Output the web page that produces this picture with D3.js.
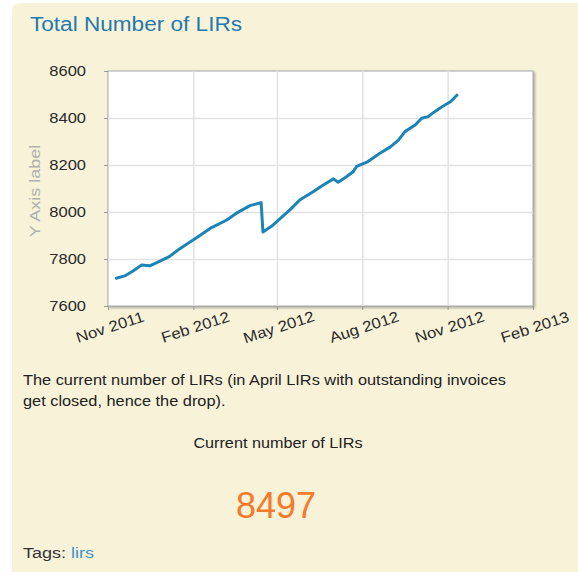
<!DOCTYPE html>
<html>
<head>
<meta charset="utf-8">
<script src="https://cdn.jsdelivr.net/npm/d3@7"></script>
<style>
	body { margin: 0; background: #fff; }
	svg { display: block; font-family: "Liberation Sans", Arial, sans-serif; }
</style>
</head>
<body>
<div id="chart"></div>
<script>
// data
var dates = ["2011-11-10", "2011-11-19", "2011-11-28", "2011-12-07", "2011-12-16", "2011-12-27",
	"2012-01-06", "2012-01-17", "2012-01-28", "2012-02-08", "2012-02-19", "2012-03-08",
	"2012-03-18", "2012-04-02", "2012-04-14", "2012-04-16", "2012-04-27", "2012-05-15",
	"2012-05-26", "2012-06-09", "2012-06-20", "2012-07-01", "2012-07-06", "2012-07-15",
	"2012-07-22", "2012-07-26", "2012-08-06", "2012-08-20", "2012-08-31", "2012-09-09",
	"2012-09-16", "2012-09-27", "2012-10-04", "2012-10-11", "2012-10-18", "2012-10-26",
	"2012-11-04", "2012-11-11"];
var lirs = [7718, 7728, 7749, 7774, 7771, 7791,
	7810, 7843, 7871, 7900, 7930, 7966,
	7994, 8027, 8040, 7915, 7945, 8009,
	8052, 8086, 8115, 8141, 8127, 8150,
	8171, 8194, 8212, 8250, 8276, 8306,
	8342, 8370, 8399, 8406, 8427, 8448,
	8469, 8497];
var yTicks = [7600, 7800, 8000, 8200, 8400, 8600];
var xTicks = ["2011-11-01", "2012-02-01", "2012-05-01", "2012-08-01", "2012-11-01", "2013-02-01"];
var currentValue = 8497;

var parse = d3.timeParse("%Y-%m-%d");

var svg = d3.select("#chart").append("svg")
	.attr("width", 578)
	.attr("height", 572);

// the text in the picture is a bit wider than Liberation Sans, so stretch it around its anchor
function label(x, y, k, size, color, txt, anchor) {
	return svg.append("text")
		.attr("transform", "translate(" + x + "," + y + ") scale(" + k + ",1)")
		.attr("text-anchor", anchor || "start")
		.attr("fill", color)
		.style("font-size", size + "px")
		.text(txt);
}

// panel
svg.append("rect")
	.attr("x", 12).attr("y", 3)
	.attr("width", 600).attr("height", 580)
	.attr("rx", 8)
	.attr("fill", "#f8f2d9");

label(30, 31, 1.075, 21, "#2479ad", "Total Number of LIRs");

var margin = { top: 71, left: 108 },
	width = 425,
	height = 235;

var defs = svg.append("defs");
defs.append("filter").attr("id", "shadow")
	.attr("x", "-5%").attr("y", "-5%").attr("width", "110%").attr("height", "110%")
	.append("feDropShadow")
	.attr("dx", 1.5).attr("dy", 1.5).attr("stdDeviation", 1)
	.attr("flood-color", "#888").attr("flood-opacity", 0.7);

var g = svg.append("g")
	.attr("transform", "translate(" + margin.left + "," + margin.top + ")");

var x = d3.scaleTime()
	.domain([parse(xTicks[0]), parse(xTicks[xTicks.length - 1])])
	.range([0, width]);

var y = d3.scaleLinear()
	.domain([yTicks[0], yTicks[yTicks.length - 1]])
	.range([height, 0]);

// frame
g.append("rect")
	.attr("width", width).attr("height", height)
	.attr("fill", "#fff")
	.attr("stroke", "#a8a8a8")
	.attr("filter", "url(#shadow)");

// gridlines
var grid = g.append("g").attr("class", "grid");
grid.append("g")
	.call(d3.axisLeft(y).tickValues(yTicks.slice(1, -1)).tickSize(-width).tickFormat(""));
grid.append("g")
	.call(d3.axisBottom(x).tickValues(xTicks.slice(1, -1).map(parse)).tickSize(height).tickFormat(""));
grid.selectAll(".domain").remove();
grid.selectAll("line").attr("stroke", "#e2e2e2").attr("stroke-width", 1.5);

// axes
var yAxis = g.append("g")
	.call(d3.axisLeft(y).tickValues(yTicks).tickSize(4).tickFormat(d3.format("d")));
var xAxis = g.append("g")
	.attr("transform", "translate(0," + height + ")")
	.call(d3.axisBottom(x).tickValues(xTicks.map(parse)).tickSize(4).tickFormat(d3.timeFormat("%b %Y")));

[yAxis, xAxis].forEach(function(a) {
	a.select(".domain").remove();
	a.selectAll("line").attr("stroke", "#999");
	a.selectAll("text")
		.attr("fill", "#2a2a2a")
		.style("font-family", "'Liberation Sans', Arial, sans-serif")
		.style("font-size", "15px");
});

yAxis.selectAll("text")
	.attr("x", 0)
	.attr("transform", "translate(-22,0) scale(1.1,1)");

xAxis.selectAll("text")
	.attr("y", 0).attr("dy", 0)
	.attr("text-anchor", "middle")
	.attr("transform", "translate(3,26) rotate(-18) scale(1.12,1)");

// y label
svg.append("text")
	.attr("transform", "translate(40,191) rotate(-90) scale(1.2,1)")
	.attr("text-anchor", "middle")
	.attr("fill", "#b0b0b0")
	.style("font-size", "15px")
	.text("Y Axis label");

// line
var line = d3.line()
	.x(function(d, i) { return x(parse(dates[i])); })
	.y(function(d) { return y(d); });

g.append("path")
	.datum(lirs)
	.attr("fill", "none")
	.attr("stroke", "#1a84b6")
	.attr("stroke-width", 3)
	.attr("stroke-linejoin", "round")
	.attr("stroke-linecap", "round")
	.attr("d", line);

// text below
label(23, 385, 1.09, 15, "#222", "The current number of LIRs (in April LIRs with outstanding invoices");
label(23, 406, 1.09, 15, "#222", "get closed, hence the drop).");
label(278, 448, 1.08, 15, "#222", "Current number of LIRs", "middle");
label(276, 518, 1, 36, "#f47b2b", currentValue, "middle");

var tags = label(23, 558, 1.2, 15, "#333", "Tags: ");
tags.append("tspan").attr("fill", "#3f92c8").text("lirs");
</script>
</body>
</html>
